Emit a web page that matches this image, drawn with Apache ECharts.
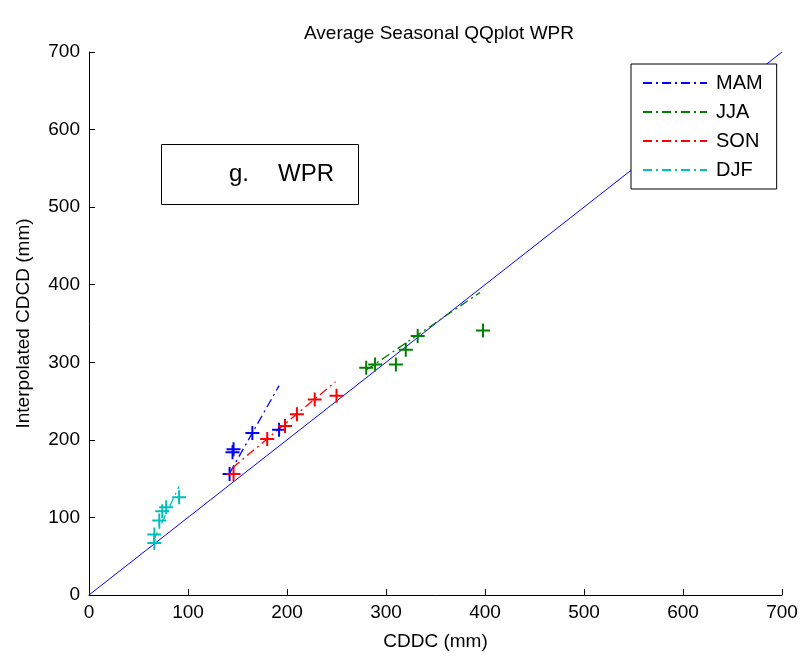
<!DOCTYPE html>
<html>
<head>
<meta charset="utf-8">
<title>Average Seasonal QQplot WPR</title>
<script src="https://cdn.jsdelivr.net/npm/echarts@6/dist/echarts.min.js"></script>
<style>
  html, body { margin: 0; padding: 0; background: #fff; }
  #chart { width: 801px; height: 656px; }
</style>
</head>
<body>
<div id="chart"></div>
<script>
// Seasonal quantile pairs: CDDC (x) vs interpolated CDCD (y), in mm
const seasons = ['MAM', 'JJA', 'SON', 'DJF'];

const mamX = [142, 145, 146, 165, 192];
const mamY = [156, 184, 188, 209, 213];

const jjaX = [280, 289, 310, 320, 332, 398];
const jjaY = [293, 297, 297, 316, 334, 341];

const sonX = [146, 180, 198, 210, 228, 250];
const sonY = [156, 201, 218, 233, 252, 257];

const djfX = [66, 66, 71, 74, 78, 91];
const djfY = [67, 78, 96, 108, 113, 126];

// Quartile reference lines (start and end points) for each season
const mamFitX = [142, 192];
const mamFitY = [157, 270];
const jjaFitX = [280, 395];
const jjaFitY = [290, 390];
const sonFitX = [145, 249];
const sonFitY = [164, 275];
const djfFitX = [65, 91];
const djfFitY = [70, 140];

// 1:1 line
const diagX = [0, 700];
const diagY = [0, 700];

// Axis ticks
const xTicks = [0, 100, 200, 300, 400, 500, 600, 700];
const yTicks = [0, 100, 200, 300, 400, 500, 600, 700];

const colors = { MAM: '#0000ff', JJA: '#008000', SON: '#ff0000', DJF: '#00bfbf' };
const pts = { MAM: [mamX, mamY], JJA: [jjaX, jjaY], SON: [sonX, sonY], DJF: [djfX, djfY] };
const fits = { MAM: [mamFitX, mamFitY], JJA: [jjaFitX, jjaFitY], SON: [sonFitX, sonFitY], DJF: [djfFitX, djfFitY] };

const zip = (xs, ys) => xs.map((x, i) => [x, ys[i]]);
const FONT = "'Liberation Sans', Arial, sans-serif";
// filled plus-sign marker
const PLUS = 'path://M-1,-7L1,-7L1,-1L7,-1L7,1L1,1L1,7L-1,7L-1,1L-7,1L-7,-1L-1,-1Z';
const DASHDOT = [9, 4, 2, 4];

const series = [];
series.push({
  type: 'line',
  name: 'diag',
  data: zip(diagX, diagY),
  symbol: 'none',
  silent: true,
  lineStyle: { color: '#0000ff', width: 1 },
  z: 3
});
seasons.forEach(s => {
  series.push({
    type: 'line',
    name: s,
    data: zip(fits[s][0], fits[s][1]),
    symbol: 'none',
    showSymbol: false,
    color: colors[s],
    lineStyle: { color: colors[s], width: 1.3, type: DASHDOT },
    z: 4
  });
  series.push({
    type: 'scatter',
    name: s + ' quantiles',
    data: zip(pts[s][0], pts[s][1]),
    symbol: PLUS,
    symbolSize: 14,
    itemStyle: { color: colors[s], opacity: 1 },
    z: 5
  });
});

const chart = echarts.init(document.getElementById('chart'), null, { renderer: 'canvas' });
chart.setOption({
  animation: false,
  backgroundColor: '#fff',
  title: {
    text: 'Average Seasonal QQplot WPR',
    left: 434,
    textAlign: 'center',
    top: 19,
    textStyle: { fontFamily: FONT, fontSize: 19, fontWeight: 'normal', color: '#000' }
  },
  grid: { left: 89, right: 19, top: 52, bottom: 57, containLabel: false },
  xAxis: {
    type: 'value',
    min: xTicks[0],
    max: xTicks[xTicks.length - 1],
    interval: xTicks[1] - xTicks[0],
    name: 'CDDC (mm)',
    nameLocation: 'middle',
    nameGap: 37,
    nameTextStyle: { fontFamily: FONT, fontSize: 19, color: '#000' },
    axisLine: { show: true, lineStyle: { color: '#000', width: 1 } },
    axisTick: { show: true, inside: true, length: 6, lineStyle: { color: '#000' } },
    axisLabel: { fontFamily: FONT, fontSize: 19, color: '#000', margin: 8 },
    splitLine: { show: false }
  },
  yAxis: {
    type: 'value',
    min: yTicks[0],
    max: yTicks[yTicks.length - 1],
    interval: yTicks[1] - yTicks[0],
    name: 'Interpolated CDCD (mm)',
    nameLocation: 'middle',
    nameGap: 56,
    nameTextStyle: { fontFamily: FONT, fontSize: 19, color: '#000' },
    axisLine: { show: true, lineStyle: { color: '#000', width: 1 } },
    axisTick: { show: true, inside: true, length: 6, lineStyle: { color: '#000' } },
    axisLabel: { fontFamily: FONT, fontSize: 19, color: '#000', margin: 9 },
    splitLine: { show: false }
  },
  legend: {
    data: seasons,
    orient: 'vertical',
    left: 631,
    top: 64,
    padding: [9, 14, 9, 11],
    itemWidth: 64,
    itemHeight: 12,
    itemGap: 9,
    borderColor: '#000',
    borderWidth: 1,
    backgroundColor: '#fff',
    selectedMode: false,
    itemStyle: { opacity: 0 },
    lineStyle: { opacity: 1 },
    textStyle: { fontFamily: FONT, fontSize: 20, color: '#000', padding: [0, 0, 0, 4] }
  },
  graphic: [
    {
      type: 'group',
      left: 161,
      top: 144,
      children: [
        { type: 'rect', shape: { x: 0.5, y: 0.5, width: 197, height: 60 },
          style: { fill: '#fff', stroke: '#000', lineWidth: 1 } },
        { type: 'text', x: 68, y: 30,
          style: { text: 'g.', font: "24px 'Liberation Sans', Arial, sans-serif", fill: '#000', textVerticalAlign: 'middle' } },
        { type: 'text', x: 117, y: 30,
          style: { text: 'WPR', font: "24px 'Liberation Sans', Arial, sans-serif", fill: '#000', textVerticalAlign: 'middle' } }
      ]
    }
  ],
  series: series
});
</script>
</body>
</html>
